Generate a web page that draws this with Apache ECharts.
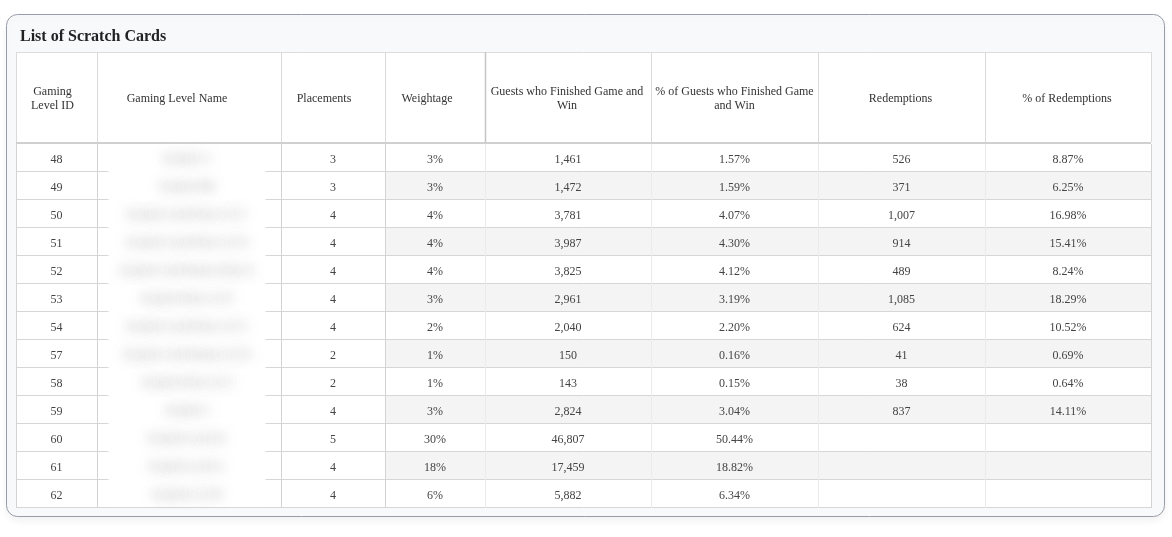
<!DOCTYPE html>
<html><head><meta charset="utf-8">
<script src="https://cdn.jsdelivr.net/npm/echarts@6/dist/echarts.min.js"></script>
<style>html,body{margin:0;padding:0;background:#fff;}#c{width:1172px;height:537px;}</style>
</head><body><div id="c"></div>
<script>
// ---- data ----
const chartTitle = 'List of Scratch Cards';
const headers = ['Gaming\nLevel ID', 'Gaming Level Name', 'Placements', 'Weightage',
  'Guests who Finished Game and\nWin', '% of Guests who Finished Game\nand Win', 'Redemptions', '% of Redemptions'];
const levelIds = [48, 49, 50, 51, 52, 53, 54, 57, 58, 59, 60, 61, 62];
// names are redacted (blurred) in the reference
const levelNames = ['Scratch A', 'Scratch BB', 'Scratch Card Prize Lvl C', 'Scratch Card Prize Lvl D',
  'Scratch Card Bonus Prize E', 'Scratch Prize Lvl F', 'Scratch Card Prize Lvl G',
  'Scratch Card Bonus Lvl H', 'Scratch Prize Lvl I', 'Scratch J', 'Scratch Level K',
  'Scratch Level L', 'Scratch Lvl M'];
const placements = [3, 3, 4, 4, 4, 4, 4, 2, 2, 4, 5, 4, 4];
const weightage = [3, 3, 4, 4, 4, 3, 2, 1, 1, 3, 30, 18, 6];
const guestsWin = [1461, 1472, 3781, 3987, 3825, 2961, 2040, 150, 143, 2824, 46807, 17459, 5882];
const guestsWinPct = [1.57, 1.59, 4.07, 4.30, 4.12, 3.19, 2.20, 0.16, 0.15, 3.04, 50.44, 18.82, 6.34];
const redemptions = [526, 371, 1007, 914, 489, 1085, 624, 41, 38, 837, null, null, null];
const redemptionsPct = [8.87, 6.25, 16.98, 15.41, 8.24, 18.29, 10.52, 0.69, 0.64, 14.11, null, null, null];

// ---- layout ----
const colEdges = [0, 81, 265, 369, 469, 635, 802, 969, 1135];
const headerShift = [-4, -12, -9, -8, -1, 0, -1, -1];
const TBL = { left: 16, top: 52, headW: 92, width: 1135, bodyTop: 144, bodyH: 364 };
const FONT = '"Liberation Serif", "Times New Roman", serif';

const fmtInt = v => v == null ? '' : v.toLocaleString('en-US');
const fmtPct = v => v == null ? '' : v.toFixed(2) + '%';

function cellTexts(i) {
  return [String(levelIds[i]), null, String(placements[i]), weightage[i] + '%',
    fmtInt(guestsWin[i]), fmtPct(guestsWinPct[i]), fmtInt(redemptions[i]), fmtPct(redemptionsPct[i])];
}

function renderRow(params, api) {
  const i = params.dataIndex;
  const h = api.size([0, 1])[1];
  const cy = api.coord([0, i])[1];
  const y0 = cy - h / 2;
  const xs = colEdges.map(e => api.coord([e, i])[0]);
  const ch = [];
  ch.push({ type: 'rect', shape: { x: xs[0], y: y0, width: xs[8] - xs[0], height: h }, style: { fill: '#ffffff' } });
  if (i % 2 === 1) {
    ch.push({ type: 'rect', shape: { x: xs[3], y: y0, width: xs[8] - xs[3], height: h }, style: { fill: '#f4f4f4' } });
  }
  const yb = Math.round(y0 + h) - 0.5;
  ch.push({ type: 'line', shape: { x1: xs[0], y1: yb, x2: xs[8], y2: yb }, style: { stroke: '#d6d6d6', lineWidth: 1 } });
  xs.forEach((x, k) => {
    const xx = Math.round(x) + 0.5;
    ch.push({ type: 'line', shape: { x1: xx, y1: y0, x2: xx, y2: y0 + h },
      style: { stroke: (k >= 4 && k <= 7) ? '#ebebeb' : '#d3d3d3', lineWidth: 1 } });
  });
  cellTexts(i).forEach((t, k) => {
    if (t == null || t === '') return;
    ch.push({ type: 'text', style: { text: t, x: (xs[k] + xs[k + 1]) / 2, y: cy + 2,
      align: 'center', verticalAlign: 'middle', font: '12px ' + FONT, fill: '#444' } });
  });
  return { type: 'group', children: ch };
}

function renderName(params, api) {
  const i = params.dataIndex;
  const cy = api.coord([0, i])[1];
  const cx = (api.coord([colEdges[1], i])[0] + api.coord([colEdges[2], i])[0]) / 2 - 2;
  const OFF = 3000;
  return { type: 'text', style: { text: levelNames[i], x: cx - OFF, y: cy + 1,
    align: 'center', verticalAlign: 'middle', font: '12px ' + FONT, fill: '#777',
    textShadowColor: 'rgba(90,90,90,0.6)', textShadowBlur: 12, textShadowOffsetX: OFF, textShadowOffsetY: 0 } };
}

// header graphics
const graphics = [];
graphics.push({ type: 'rect', z: 0, shape: { x: 6.5, y: 14.5, width: 1158, height: 502, r: 11 },
  style: { fill: '#f8f9fb', stroke: '#989ca8', lineWidth: 1, shadowColor: 'rgba(0,0,0,0.05)', shadowBlur: 8, shadowOffsetY: 4 } });
graphics.push({ type: 'text', z: 1, style: { text: chartTitle, x: 20, y: 37, verticalAlign: 'middle',
  font: 'bold 16px ' + FONT, fill: '#222' } });
graphics.push({ type: 'rect', z: 1, shape: { x: TBL.left, y: TBL.top, width: TBL.width, height: TBL.headW },
  style: { fill: '#ffffff' } });
graphics.push({ type: 'line', z: 2, shape: { x1: TBL.left, y1: TBL.top + 0.5, x2: TBL.left + TBL.width, y2: TBL.top + 0.5 },
  style: { stroke: '#dcdcdc', lineWidth: 1 } });
graphics.push({ type: 'line', z: 2, shape: { x1: TBL.left, y1: TBL.bodyTop - 1, x2: TBL.left + TBL.width, y2: TBL.bodyTop - 1 },
  style: { stroke: '#d0d0d0', lineWidth: 2 } });
colEdges.forEach((e, k) => {
  const x = TBL.left + e + 0.5;
  graphics.push({ type: 'line', z: 2, shape: { x1: x, y1: TBL.top, x2: x, y2: TBL.bodyTop - 2 },
    style: { stroke: k === 4 ? '#c4c4c4' : '#dadada', lineWidth: k === 4 ? 1.5 : 1 } });
});
headers.forEach((hd, k) => {
  graphics.push({ type: 'text', z: 3, style: { text: hd, x: TBL.left + (colEdges[k] + colEdges[k + 1]) / 2 + headerShift[k],
    y: TBL.top + TBL.headW / 2 + 1, align: 'center', verticalAlign: 'middle', lineHeight: 14,
    font: '12px ' + FONT, fill: '#333' } });
});
// redaction overlay on the name column
graphics.push({ type: 'rect', z: 50, shape: { x: 109, y: 151, width: 156, height: 354 },
  style: { fill: '#ffffff', shadowColor: 'rgba(255,255,255,1)', shadowBlur: 3 } });

const chart = echarts.init(document.getElementById('c'), null, { renderer: 'canvas' });
chart.setOption({
  animation: false,
  backgroundColor: '#ffffff',
  grid: { left: TBL.left, top: TBL.bodyTop, width: TBL.width, height: TBL.bodyH },
  xAxis: { type: 'value', min: 0, max: colEdges[colEdges.length - 1], show: false },
  yAxis: { type: 'category', data: levelIds.map(String), inverse: true, show: false },
  graphic: { elements: graphics },
  series: [
    { type: 'custom', z: 10, renderItem: renderRow, data: levelIds.map((id, i) => [0, i]), encode: { x: 0, y: 1 }, silent: true },
    { type: 'custom', z: 60, renderItem: renderName, data: levelIds.map((id, i) => [0, i]), encode: { x: 0, y: 1 }, silent: true }
  ]
});
</script></body></html>
